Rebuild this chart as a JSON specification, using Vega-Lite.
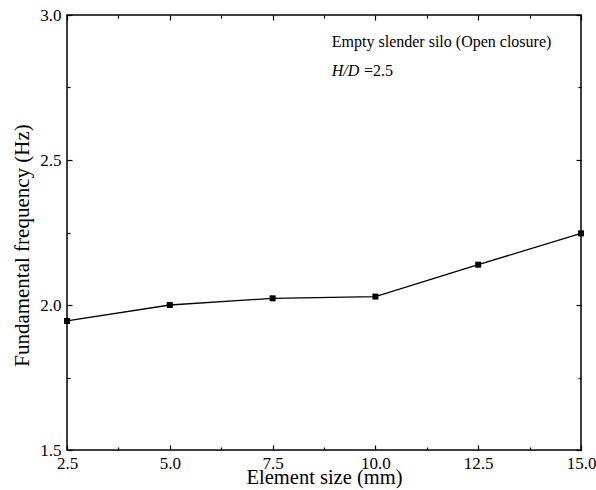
{
  "$schema": "https://vega.github.io/schema/vega-lite/v6.json",
  "autosize": "none",
  "width": 514,
  "height": 435,
  "padding": {"left": 67, "top": 15, "right": 15, "bottom": 40},
  "background": "white",
  "config": {
    "view": {"stroke": "black", "strokeWidth": 1.5},
    "font": "Liberation Serif",
    "axis": {
      "domain": false,
      "grid": false,
      "tickColor": "black",
      "tickWidth": 1.2,
      "labelColor": "black",
      "labelFont": "Liberation Serif",
      "labelFontSize": 17,
      "titleFont": "Liberation Serif",
      "titleFontSize": 20,
      "titleFontWeight": "normal",
      "titleColor": "black"
    }
  },
  "datasets": {
    "freq": [
      {"size": 2.5, "f": 1.945},
      {"size": 5.0, "f": 2.0},
      {"size": 7.5, "f": 2.023},
      {"size": 10.0, "f": 2.029},
      {"size": 12.5, "f": 2.139},
      {"size": 15.0, "f": 2.247}
    ],
    "note1": [{"x": 8.94, "y": 2.889, "t": "Empty slender silo (Open closure)"}],
    "note2": [{"x": 8.94, "y": 2.789, "t": "H/D"}],
    "note3": [{"x": 9.72, "y": 2.789, "t": "=2.5"}]
  },
  "resolve": {"axis": {"x": "independent", "y": "independent"}},
  "layer": [
    {
      "data": {"name": "freq"},
      "mark": {"type": "line", "color": "black", "strokeWidth": 1.3, "point": {"shape": "square", "size": 36, "filled": true, "color": "black", "opacity": 1}},
      "encoding": {
        "x": {
          "field": "size", "type": "quantitative",
          "scale": {"domain": [2.5, 15], "nice": false, "zero": false},
          "axis": {
            "orient": "bottom",
            "title": "Element size (mm)",
            "titleFontSize": 20.5,
            "values": [2.5, 3.75, 5, 6.25, 7.5, 8.75, 10, 11.25, 12.5, 13.75, 15],
            "labelExpr": "datum.value % 2.5 === 0 ? format(datum.value, '.1f') : ''",
            "labelFlush": false,
            "labelOverlap": false,
            "tickSize": {"condition": {"test": "datum.value % 2.5 === 0", "value": -5}, "value": -3},
            "labelPadding": 10,
            "titlePadding": -6
          }
        },
        "y": {
          "field": "f", "type": "quantitative",
          "scale": {"domain": [1.5, 3.0], "nice": false, "zero": false},
          "axis": {
            "orient": "left",
            "title": "Fundamental frequency (Hz)",
            "titleFontSize": 21,
            "titleY": 230,
            "values": [1.5, 1.75, 2, 2.25, 2.5, 2.75, 3],
            "labelExpr": "datum.value % 0.5 === 0 ? format(datum.value, '.1f') : ''",
            "labelFlush": false,
            "labelOverlap": false,
            "tickSize": {"condition": {"test": "datum.value % 0.5 === 0", "value": -5}, "value": -3},
            "labelPadding": 11,
            "titlePadding": 7
          }
        }
      }
    },
    {
      "data": {"name": "freq"},
      "mark": {"type": "point", "opacity": 0},
      "encoding": {
        "x": {
          "field": "size", "type": "quantitative",
          "scale": {"domain": [2.5, 15], "nice": false, "zero": false},
          "axis": {
            "orient": "top",
            "title": null,
            "labels": false,
            "values": [2.5, 3.75, 5, 6.25, 7.5, 8.75, 10, 11.25, 12.5, 13.75, 15],
            "tickSize": {"condition": {"test": "datum.value % 2.5 === 0", "value": -5}, "value": -3}
          }
        },
        "y": {
          "field": "f", "type": "quantitative",
          "scale": {"domain": [1.5, 3.0], "nice": false, "zero": false},
          "axis": {
            "orient": "right",
            "title": null,
            "labels": false,
            "values": [1.5, 1.75, 2, 2.25, 2.5, 2.75, 3],
            "tickSize": {"condition": {"test": "datum.value % 0.5 === 0", "value": -5}, "value": -3}
          }
        }
      }
    },
    {
      "data": {"name": "note1"},
      "mark": {"type": "text", "align": "left", "baseline": "alphabetic", "font": "Liberation Serif", "fontSize": 16, "color": "black"},
      "encoding": {
        "x": {"field": "x", "type": "quantitative", "axis": null},
        "y": {"field": "y", "type": "quantitative", "axis": null},
        "text": {"field": "t"}
      }
    },
    {
      "data": {"name": "note2"},
      "mark": {"type": "text", "align": "left", "baseline": "alphabetic", "font": "Liberation Serif", "fontSize": 16, "fontStyle": "italic", "color": "black"},
      "encoding": {
        "x": {"field": "x", "type": "quantitative", "axis": null},
        "y": {"field": "y", "type": "quantitative", "axis": null},
        "text": {"field": "t"}
      }
    },
    {
      "data": {"name": "note3"},
      "mark": {"type": "text", "align": "left", "baseline": "alphabetic", "font": "Liberation Serif", "fontSize": 16, "color": "black"},
      "encoding": {
        "x": {"field": "x", "type": "quantitative", "axis": null},
        "y": {"field": "y", "type": "quantitative", "axis": null},
        "text": {"field": "t"}
      }
    }
  ]
}
